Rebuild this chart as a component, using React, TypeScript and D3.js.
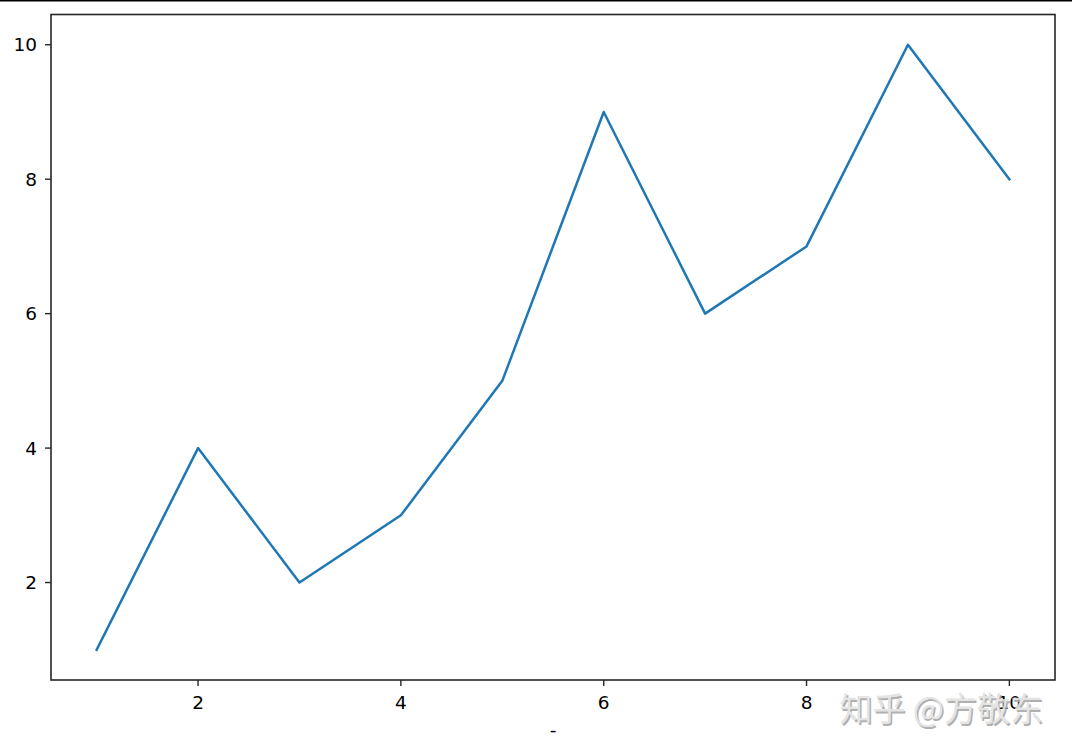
import React from "react";
import * as d3 from "d3";

const xValues = [1, 2, 3, 4, 5, 6, 7, 8, 9, 10];
const yValues = [1, 4, 2, 3, 5, 9, 6, 7, 10, 8];
const xTicks = [2, 4, 6, 8, 10];
const yTicks = [2, 4, 6, 8, 10];
const xLabel = "-";
const watermark = "知乎 @方敬东";

export default function App() {
  const W = 1072, H = 754;
  const left = 51, right = 1055, top = 14.5, bottom = 680;
  const x = d3.scaleLinear().domain([0.55, 10.45]).range([left, right]);
  const y = d3.scaleLinear().domain([0.55, 10.45]).range([bottom, top]);
  const pts: [number, number][] = xValues.map((v, i) => [v, yValues[i]]);
  const line = d3.line<[number, number]>().x(d => x(d[0])).y(d => y(d[1]));
  const font = "DejaVu Sans, sans-serif";
  const cjk = "Noto Sans CJK SC, sans-serif";
  return (
    <svg width={W} height={H} style={{ position: "absolute", left: 0, top: 0, background: "#fff" }}>
      <rect x={0} y={0} width={W} height={H} fill="#fff" />
      <line x1={0} x2={W} y1={0.75} y2={0.75} stroke="#000" strokeWidth={1.5} />
      <path d={line(pts) || ""} fill="none" stroke="#1f77b4" strokeWidth={2.5} strokeLinejoin="round" strokeLinecap="square" />
      <rect x={left} y={top} width={right - left} height={bottom - top} fill="none" stroke="#262626" strokeWidth={1.6} />
      {xTicks.map(t => (
        <g key={"x" + t}>
          <line x1={x(t)} x2={x(t)} y1={bottom} y2={bottom + 6} stroke="#262626" strokeWidth={1.4} />
          <text x={x(t)} y={bottom + 29} textAnchor="middle" fontFamily={font} fontSize={18.5} fill="#000">{t}</text>
        </g>
      ))}
      {yTicks.map(t => (
        <g key={"y" + t}>
          <line x1={left - 6} x2={left} y1={y(t)} y2={y(t)} stroke="#262626" strokeWidth={1.4} />
          <text x={left - 14} y={y(t)} dy="0.36em" textAnchor="end" fontFamily={font} fontSize={18.5} fill="#000">{t}</text>
        </g>
      ))}
      <text x={(left + right) / 2} y={736} textAnchor="middle" fontFamily={font} fontSize={18.5} fill="#000">{xLabel}</text>
      <g opacity={0.9}>
        <text x={1044.5} y={722.5} textAnchor="end" fontFamily={cjk} fontSize={33} fill="#a8a8a8">{watermark}</text>
        <text x={1043} y={721} textAnchor="end" fontFamily={cjk} fontSize={33} fill="#e2e2e2">{watermark}</text>
      </g>
    </svg>
  );
}
